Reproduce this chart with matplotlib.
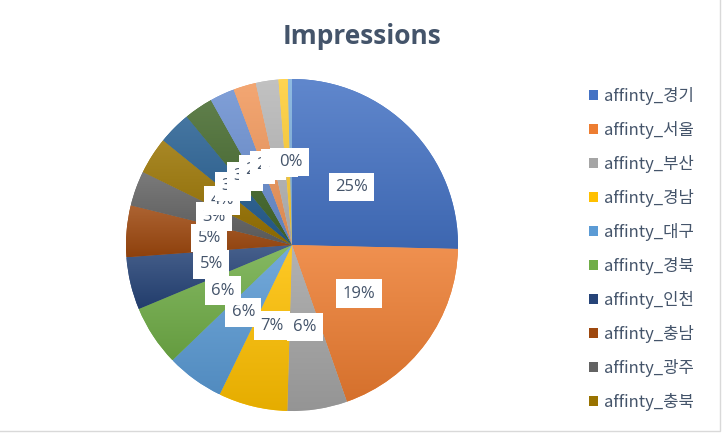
import numpy as np
import matplotlib
matplotlib.use("Agg")
import matplotlib.pyplot as plt
from matplotlib.colors import to_rgb
from matplotlib.patches import Rectangle

# ---- data ----
regions = ["affinty_경기", "affinty_서울", "affinty_부산", "affinty_경남", "affinty_대구",
           "affinty_경북", "affinty_인천", "affinty_충남", "affinty_광주", "affinty_충북",
           "affinty_대전", "affinty_전북", "affinty_전남", "affinty_강원", "affinty_울산",
           "affinty_제주", "affinty_세종"]
shares = [25.3, 19.2, 5.8, 6.7, 5.6, 5.9, 5.1, 5.0, 3.4, 3.6, 3.2, 2.8, 2.4, 2.2, 2.2, 0.9, 0.4]
colors = ["#4472C4", "#ED7D31", "#A5A5A5", "#FFC000", "#5B9BD5", "#70AD47", "#264478",
          "#9E480E", "#636363", "#997300", "#255E91", "#43682B", "#698ED0", "#F1975A",
          "#B7B7B7", "#FFCD33", "#7CAFDD"]
legend_count = 10
title = "Impressions"

text_color = "#44546A"
W, H = 724, 434
fig = plt.figure(figsize=(W / 100, H / 100), dpi=100)

# pie axes placed in pixel terms
cx, cy, R = 292, 245, 166
lim = 1.0
ax = fig.add_axes([(cx - R) / W, (H - cy - R) / H, 2 * R / W, 2 * R / H])

wedges, texts, autotexts = ax.pie(
    shares, colors=colors, startangle=90, counterclock=False,
    autopct=lambda p: f"{p:.0f}%", pctdistance=0.5,
    wedgeprops=dict(linewidth=0, edgecolor="none"),
    textprops=dict(color=text_color, fontsize=12, family="Open Sans"))

# gradient fill per wedge (lighter at top, darker at bottom)
for w, c in zip(wedges, colors):
    base = np.array(to_rgb(c))
    top = base * 0.85 + 0.15
    bot = base * 0.9
    t = np.linspace(0, 1, 128).reshape(-1, 1, 1)
    img = top * (1 - t) + bot * t
    ext = w.get_path().get_extents()
    im = ax.imshow(img, extent=(ext.x0, ext.x1, ext.y0, ext.y1), origin="upper",
                   aspect="auto", interpolation="bilinear", zorder=w.get_zorder() + 0.1)
    im.set_clip_path(w)

for at in autotexts:
    at.set_bbox(dict(boxstyle="square,pad=0.38", facecolor="white", edgecolor="none"))
    at.set_zorder(5)

ax.set_xlim(-lim, lim)
ax.set_ylim(-lim, lim)
ax.set_aspect("equal")
ax.axis("off")

fig.text(0.5, (H - 37) / H, title, ha="center", va="center", fontsize=19,
         fontweight="bold", color=text_color, family="Open Sans")

leg = fig.legend(wedges[:legend_count], regions[:legend_count], loc="upper left",
                 bbox_to_anchor=(589 / W, (H - 87) / H), frameon=False,
                 prop=dict(family=["Noto Sans CJK KR", "DejaVu Sans"], size=12),
                 handlelength=0.55, handleheight=0.55, handletextpad=0.35,
                 labelspacing=0.96, borderpad=0, borderaxespad=0)
for t in leg.get_texts():
    t.set_color(text_color)

# chart area border (only right/bottom edges visible)
fig.add_artist(Rectangle((-0.01, 3 / H), 720 / W + 0.01, 1.05, transform=fig.transFigure,
                         fill=False, edgecolor="#D9D9D9", linewidth=1))

fig.savefig("out.png", dpi=100)
